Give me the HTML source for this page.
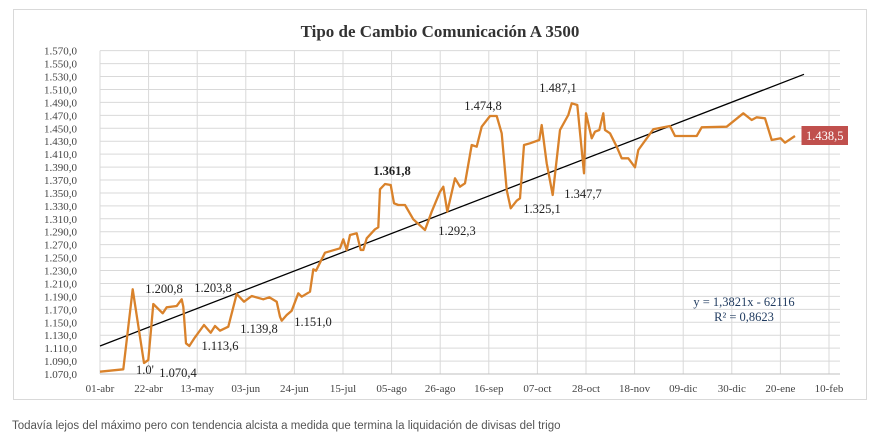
<!DOCTYPE html>
<html><head><meta charset="utf-8"><style>
body{margin:0;width:879px;height:441px;background:#fff;overflow:hidden;font-family:"Liberation Sans",sans-serif}
</style></head><body>
<svg width="879" height="441" xmlns="http://www.w3.org/2000/svg" style="position:absolute;left:0;top:0">
<rect x="13.5" y="9.5" width="853" height="390" fill="#fff" stroke="#d9d9d9"/>
<text x="440" y="37" text-anchor="middle" font-family="Liberation Serif,serif" font-weight="bold" font-size="17" fill="#333">Tipo de Cambio Comunicación A 3500</text>
<g id="grid" stroke="#d9d9d9" stroke-width="1"></g>
<g id="yl" font-family="Liberation Serif,serif" font-size="11" fill="#444" text-anchor="end"></g>
<g id="xl" font-family="Liberation Serif,serif" font-size="11" fill="#444" text-anchor="middle"></g>
<line x1="100" y1="346" x2="804" y2="74.3" stroke="#000" stroke-width="1.3"/>
<polyline fill="none" stroke="#d9822b" stroke-width="2.3" stroke-linejoin="round" points="100,371.7 123.3,369.3 132.7,289.3 144,363 148.3,360 153.3,304 162.7,313.3 166.7,307.3 176.7,306 181.7,299.3 183.3,306.7 186,343.3 189.3,346 195,337.3 204,325 210.7,332.7 215,326 220,330.7 228.3,326.7 236.7,294 244,301.7 251.7,296 263.3,299.3 269.3,297.3 276.7,301.7 280,316.7 281.7,320.7 286.7,315 291.7,310.7 298.3,293.3 301.7,296.7 310,291.7 313.3,269.3 316,270.7 325,252.7 340,248.3 343.3,239.3 346.7,250 350,235 356.7,233.3 360.7,250 363.3,250 366.7,238.3 375,229.3 378.3,227.3 380,189.3 385,184 390.7,185 394,203.3 398.3,205 405,205 413.3,219.3 425,230 431.7,211.7 440,191.7 443.3,186.7 447.3,211.7 455,178.3 460,186.7 465,183.3 471.7,145 476.7,146.7 481.7,126.7 490,116 496.7,116 501.7,133.3 506.7,190 510.7,208.3 516.7,200.7 520,198.3 524,145 530,143.3 539.3,140 541.7,125 546.7,163.3 552.7,195 560,130 568.3,115 571.7,103.3 577.3,105 584,173.3 586,113.3 591.7,138.3 595,131.7 599.3,130 603.3,113.3 605,130 610,133.3 616.7,146.7 621.7,158.3 628.3,158.3 635,167.3 638.3,150 653.3,129.3 670,126 675,136 696.7,136 701.7,127.3 726.7,126.7 743.3,113.3 751.7,120 756.7,117.3 765,118.3 771.7,140 780.7,138.3 785,142.7 795,136"/>
<g font-family="Liberation Serif,serif" font-size="12.5" fill="#222" text-anchor="middle">
<text x="164" y="293">1.200,8</text>
<text x="145" y="374">1.0'</text>
<text x="178" y="377">1.070,4</text>
<text x="220" y="350">1.113,6</text>
<text x="213" y="292">1.203,8</text>
<text x="259" y="333">1.139,8</text>
<text x="313" y="326">1.151,0</text>
<text x="392" y="175" font-weight="bold">1.361,8</text>
<text x="457" y="235">1.292,3</text>
<text x="483" y="110">1.474,8</text>
<text x="558" y="92">1.487,1</text>
<text x="542" y="213">1.325,1</text>
<text x="583" y="198">1.347,7</text>
<text x="744" y="306" fill="#1f3a5f">y = 1,3821x - 62116</text>
<text x="744" y="321" fill="#1f3a5f">R² = 0,8623</text>
</g>
<rect x="801.5" y="126" width="46.5" height="19" fill="#c0504d"/>
<text x="824.7" y="140" text-anchor="middle" font-family="Liberation Serif,serif" font-size="12.5" fill="#fff">1.438,5</text>
<text x="12" y="429" font-size="11.5" fill="#555">Todavía lejos del máximo pero con tendencia alcista a medida que termina la liquidación de divisas del trigo</text>
</svg>
<script>
var ns="http://www.w3.org/2000/svg",g=document.getElementById("grid"),yl=document.getElementById("yl"),xl=document.getElementById("xl");
function el(p,t,a){var e=document.createElementNS(ns,t);for(var k in a)e.setAttribute(k,a[k]);p.appendChild(e);return e;}
for(var i=0;i<=25;i++){var v=1070+i*20,y=374-i*12.933;el(g,"line",{x1:100,x2:840,y1:y,y2:y});
var t=el(yl,"text",{x:77,y:y+4});t.textContent=(v>=1000?"1."+String(v-1000).padStart(3,"0"):v)+",0";}
var L=["01-abr","22-abr","13-may","03-jun","24-jun","15-jul","05-ago","26-ago","16-sep","07-oct","28-oct","18-nov","09-dic","30-dic","20-ene","10-feb"];
for(var j=0;j<16;j++){var x=100+j*48.6;el(g,"line",{x1:x,x2:x,y1:50.7,y2:374});var t2=el(xl,"text",{x:x,y:392});t2.textContent=L[j];}
el(g,"line",{x1:100,x2:840,y1:374,y2:374,stroke:"#bfbfbf"});
</script>
</body></html>
